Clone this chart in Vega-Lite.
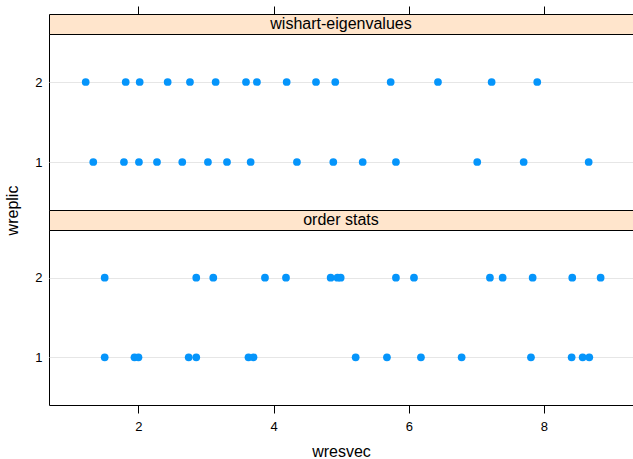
{
  "$schema": "https://vega.github.io/schema/vega-lite/v6.json",
  "autosize": {"type": "pad"},
  "padding": {"left": 3, "top": 5, "right": 0, "bottom": 0},
  "config": {
    "font": "Liberation Sans",
    "view": {"stroke": "black", "strokeWidth": 1},
    "axis": {
      "labelColor": "black",
      "titleColor": "black",
      "tickColor": "black",
      "labelFont": "Liberation Sans",
      "titleFont": "Liberation Sans",
      "titleFontWeight": "normal"
    }
  },
  "datasets": {
    "strips": [
      {"panel": "wishart-eigenvalues"},
      {"panel": "order stats"}
    ],
    "dots": [
      {"panel": "wishart-eigenvalues", "wreplic": 1, "wresvec": 1.331},
      {"panel": "wishart-eigenvalues", "wreplic": 1, "wresvec": 1.785},
      {"panel": "wishart-eigenvalues", "wreplic": 1, "wresvec": 2.007},
      {"panel": "wishart-eigenvalues", "wreplic": 1, "wresvec": 2.274},
      {"panel": "wishart-eigenvalues", "wreplic": 1, "wresvec": 2.648},
      {"panel": "wishart-eigenvalues", "wreplic": 1, "wresvec": 3.028},
      {"panel": "wishart-eigenvalues", "wreplic": 1, "wresvec": 3.310},
      {"panel": "wishart-eigenvalues", "wreplic": 1, "wresvec": 3.660},
      {"panel": "wishart-eigenvalues", "wreplic": 1, "wresvec": 4.345},
      {"panel": "wishart-eigenvalues", "wreplic": 1, "wresvec": 4.883},
      {"panel": "wishart-eigenvalues", "wreplic": 1, "wresvec": 5.318},
      {"panel": "wishart-eigenvalues", "wreplic": 1, "wresvec": 5.810},
      {"panel": "wishart-eigenvalues", "wreplic": 1, "wresvec": 7.013},
      {"panel": "wishart-eigenvalues", "wreplic": 1, "wresvec": 7.700},
      {"panel": "wishart-eigenvalues", "wreplic": 1, "wresvec": 8.662},
      {"panel": "wishart-eigenvalues", "wreplic": 2, "wresvec": 1.219},
      {"panel": "wishart-eigenvalues", "wreplic": 2, "wresvec": 1.811},
      {"panel": "wishart-eigenvalues", "wreplic": 2, "wresvec": 2.018},
      {"panel": "wishart-eigenvalues", "wreplic": 2, "wresvec": 2.432},
      {"panel": "wishart-eigenvalues", "wreplic": 2, "wresvec": 2.762},
      {"panel": "wishart-eigenvalues", "wreplic": 2, "wresvec": 3.142},
      {"panel": "wishart-eigenvalues", "wreplic": 2, "wresvec": 3.591},
      {"panel": "wishart-eigenvalues", "wreplic": 2, "wresvec": 3.753},
      {"panel": "wishart-eigenvalues", "wreplic": 2, "wresvec": 4.193},
      {"panel": "wishart-eigenvalues", "wreplic": 2, "wresvec": 4.627},
      {"panel": "wishart-eigenvalues", "wreplic": 2, "wresvec": 4.912},
      {"panel": "wishart-eigenvalues", "wreplic": 2, "wresvec": 5.732},
      {"panel": "wishart-eigenvalues", "wreplic": 2, "wresvec": 6.432},
      {"panel": "wishart-eigenvalues", "wreplic": 2, "wresvec": 7.226},
      {"panel": "wishart-eigenvalues", "wreplic": 2, "wresvec": 7.901},
      {"panel": "order stats", "wreplic": 1, "wresvec": 1.500},
      {"panel": "order stats", "wreplic": 1, "wresvec": 1.941},
      {"panel": "order stats", "wreplic": 1, "wresvec": 2.000},
      {"panel": "order stats", "wreplic": 1, "wresvec": 2.743},
      {"panel": "order stats", "wreplic": 1, "wresvec": 2.855},
      {"panel": "order stats", "wreplic": 1, "wresvec": 3.628},
      {"panel": "order stats", "wreplic": 1, "wresvec": 3.702},
      {"panel": "order stats", "wreplic": 1, "wresvec": 5.214},
      {"panel": "order stats", "wreplic": 1, "wresvec": 5.677},
      {"panel": "order stats", "wreplic": 1, "wresvec": 6.180},
      {"panel": "order stats", "wreplic": 1, "wresvec": 6.782},
      {"panel": "order stats", "wreplic": 1, "wresvec": 7.808},
      {"panel": "order stats", "wreplic": 1, "wresvec": 8.410},
      {"panel": "order stats", "wreplic": 1, "wresvec": 8.573},
      {"panel": "order stats", "wreplic": 1, "wresvec": 8.671},
      {"panel": "order stats", "wreplic": 2, "wresvec": 1.500},
      {"panel": "order stats", "wreplic": 2, "wresvec": 2.855},
      {"panel": "order stats", "wreplic": 2, "wresvec": 3.107},
      {"panel": "order stats", "wreplic": 2, "wresvec": 3.872},
      {"panel": "order stats", "wreplic": 2, "wresvec": 4.183},
      {"panel": "order stats", "wreplic": 2, "wresvec": 4.844},
      {"panel": "order stats", "wreplic": 2, "wresvec": 4.945},
      {"panel": "order stats", "wreplic": 2, "wresvec": 4.992},
      {"panel": "order stats", "wreplic": 2, "wresvec": 5.810},
      {"panel": "order stats", "wreplic": 2, "wresvec": 6.077},
      {"panel": "order stats", "wreplic": 2, "wresvec": 7.201},
      {"panel": "order stats", "wreplic": 2, "wresvec": 7.389},
      {"panel": "order stats", "wreplic": 2, "wresvec": 7.833},
      {"panel": "order stats", "wreplic": 2, "wresvec": 8.419},
      {"panel": "order stats", "wreplic": 2, "wresvec": 8.839}
    ]
  },
  "spacing": 0,
  "bounds": "flush",
  "vconcat": [
    {
      "width": 584,
      "height": 20,
      "data": {"name": "strips"},
      "transform": [{"filter": "datum.panel === 'wishart-eigenvalues'"}],
      "view": {"fill": "#ffe5cc", "stroke": "black"},
      "mark": {"type": "text", "fontSize": 16, "color": "black", "font": "Liberation Sans"},
      "encoding": {"text": {"field": "panel", "type": "nominal"}}
    },
    {
      "width": 584,
      "height": 176,
      "data": {"name": "dots"},
      "transform": [{"filter": "datum.panel === 'wishart-eigenvalues'"}],
      "mark": {"type": "circle", "size": 60, "opacity": 1, "color": "#0595fb"},
      "encoding": {
        "x": {
          "field": "wresvec",
          "type": "quantitative",
          "scale": {"domain": [0.676, 9.318], "nice": false, "zero": false},
          "axis": {
            "orient": "top",
            "offset": 20,
            "values": [2, 4, 6, 8],
            "labels": false,
            "domain": false,
            "grid": false,
            "tickSize": 8,
            "title": null
          }
        },
        "y": {
          "field": "wreplic",
          "type": "ordinal",
          "scale": {"domain": [2, 1], "padding": 0.6},
          "axis": {
            "title": "wreplic",
            "titleFontSize": 16,
            "titleX": -29,
            "titleY": 176,
            "labelFontSize": 13,
            "labelAngle": 0,
            "labelPadding": 7,
            "ticks": false,
            "domain": false,
            "grid": true,
            "gridColor": "#e6e6e6"
          }
        }
      }
    },
    {
      "width": 584,
      "height": 20,
      "data": {"name": "strips"},
      "transform": [{"filter": "datum.panel === 'order stats'"}],
      "view": {"fill": "#ffe5cc", "stroke": "black"},
      "mark": {"type": "text", "fontSize": 16, "color": "black", "font": "Liberation Sans"},
      "encoding": {"text": {"field": "panel", "type": "nominal"}}
    },
    {
      "width": 584,
      "height": 175,
      "data": {"name": "dots"},
      "transform": [{"filter": "datum.panel === 'order stats'"}],
      "mark": {"type": "circle", "size": 60, "opacity": 1, "color": "#0595fb"},
      "encoding": {
        "x": {
          "field": "wresvec",
          "type": "quantitative",
          "scale": {"domain": [0.676, 9.318], "nice": false, "zero": false},
          "axis": {
            "orient": "bottom",
            "values": [2, 4, 6, 8],
            "domain": false,
            "grid": false,
            "tickSize": 8,
            "labelFontSize": 13,
            "labelPadding": 7,
            "title": "wresvec",
            "titleFontSize": 16,
            "titlePadding": 10
          }
        },
        "y": {
          "field": "wreplic",
          "type": "ordinal",
          "scale": {"domain": [2, 1], "padding": 0.6},
          "axis": {
            "title": null,
            "labelFontSize": 13,
            "labelAngle": 0,
            "labelPadding": 7,
            "ticks": false,
            "domain": false,
            "grid": true,
            "gridColor": "#e6e6e6"
          }
        }
      }
    }
  ]
}
